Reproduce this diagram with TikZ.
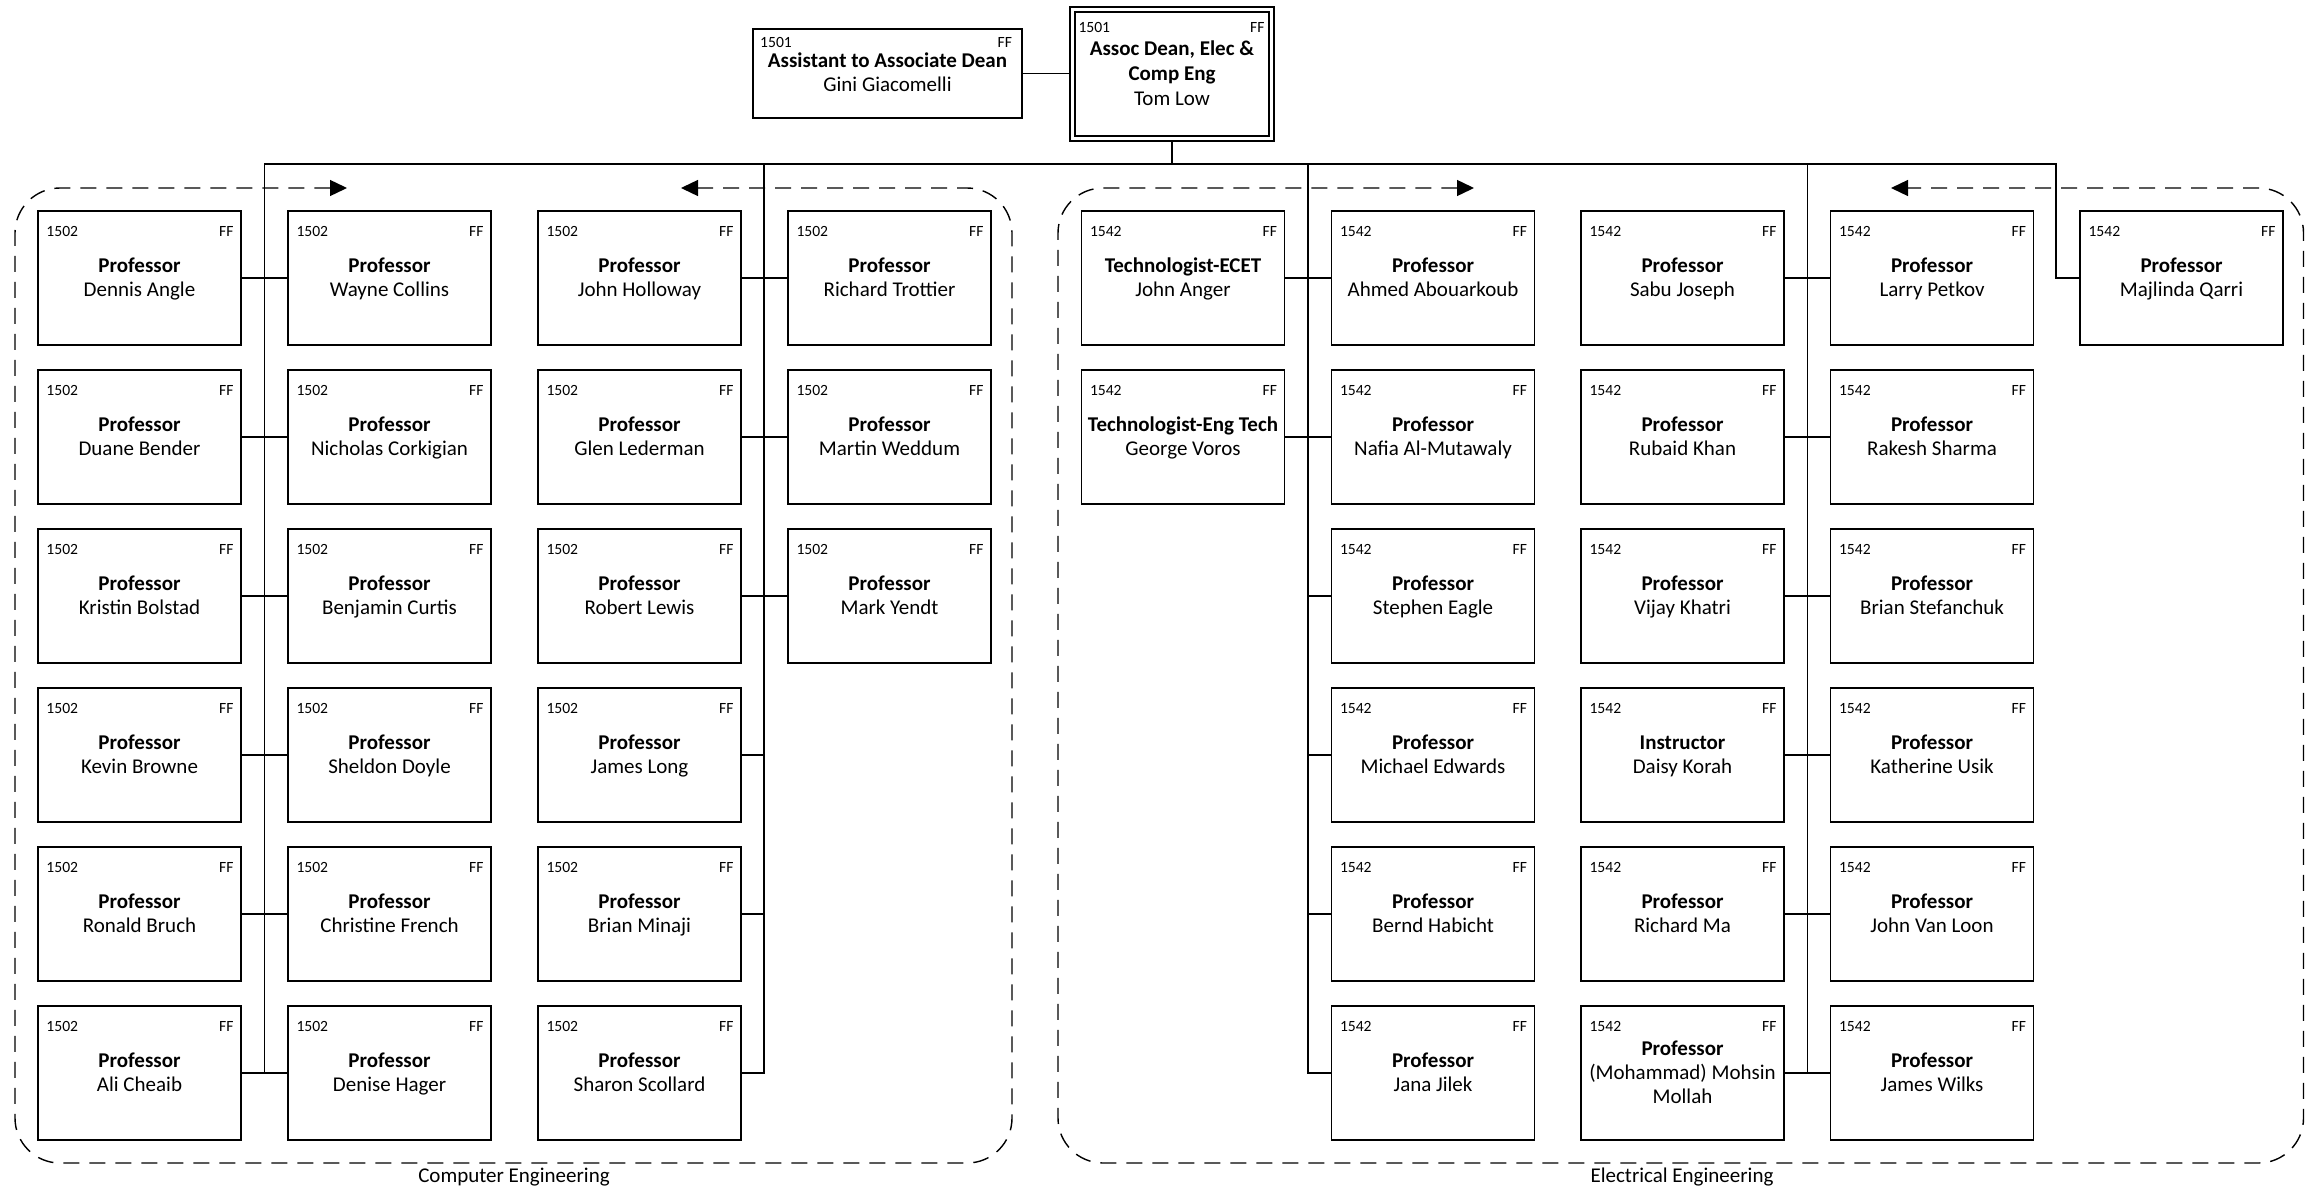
\documentclass[tikz,border=0pt]{standalone}
\usepackage{fontspec}
\setmainfont{Carlito}
\usetikzlibrary{arrows.meta,backgrounds}
\newcommand{\tstrut}{\rule{0pt}{9pt}}
\newcommand{\bstrut}{\rule[-2.7pt]{0pt}{2.7pt}}
\tikzset{
  pbox/.style={draw, line width=0.8pt, minimum width=101.6pt, minimum height=67.2pt,
    inner sep=0pt, align=center, font=\fontsize{10.5}{12}\selectfont},
  deanbox/.style={draw, double, line width=0.9pt, double distance=1.6pt,
    minimum width=99.5pt, minimum height=64.5pt, outer sep=1.7pt,
    inner sep=0pt, align=center, font=\fontsize{10.5}{12.4}\selectfont},
  asstbox/.style={draw, line width=0.8pt, minimum width=134.5pt, minimum height=44.5pt,
    inner sep=0pt, align=center, font=\fontsize{10.5}{12}\selectfont},
  codelbl/.style={inner sep=0pt, font=\fontsize{7.8}{9}\selectfont},
  conn/.style={line width=0.7pt},
  busline/.style={line width=1pt},
  grp/.style={line width=0.7pt, dash pattern=on 8pt off 5pt, rounded corners=22.5pt,
    {Triangle[length=8.5pt,width=8pt]}-{Triangle[length=8.5pt,width=8pt]}},
  grplbl/.style={inner sep=0pt, font=\fontsize{10.5}{12}\selectfont},
}
\newcommand{\orgbox}[6]{%
  \node[pbox] (#1) at (#2,#3) {\tstrut\textbf{#5}\\#6\bstrut};
  \node[codelbl, anchor=base west] (#1-c) at ([xshift=4.5pt,yshift=-13.1pt]#1.north west) {#4};
  \node[codelbl, anchor=base east] (#1-f) at ([xshift=-4pt,yshift=-13.1pt]#1.north east) {FF};
}
\begin{document}
\begin{tikzpicture}[x=0.5pt,y=-0.5pt]
\useasboundingbox (0,0) rectangle (2306,1188);
\fill[white] (0,0) rectangle (2306,1188);

% top boxes
\node[deanbox] (dean) at (1172,74) {\tstrut\textbf{Assoc Dean, Elec \&}\\\textbf{Comp Eng}\\Tom Low\bstrut};
\node[codelbl, anchor=base west] (dean-c) at ([xshift=4.5pt,yshift=-13.2pt]dean.north west) {1501};
\node[codelbl, anchor=base east] (dean-f) at ([xshift=-5pt,yshift=-13.2pt]dean.north east) {FF};

\node[asstbox] (asst) at (887.5,73.5) {\tstrut\textbf{Assistant to Associate Dean}\\Gini Giacomelli\bstrut};
\node[codelbl, anchor=base west] (asst-c) at ([xshift=3.8pt,yshift=-9.5pt]asst.north west) {1501};
\node[codelbl, anchor=base east] (asst-f) at ([xshift=-5.2pt,yshift=-9.5pt]asst.north east) {FF};

% Computer Engineering
\orgbox{a1}{139.5}{278}{1502}{Professor}{Dennis Angle}
\orgbox{a2}{139.5}{437}{1502}{Professor}{Duane Bender}
\orgbox{a3}{139.5}{596}{1502}{Professor}{Kristin Bolstad}
\orgbox{a4}{139.5}{755}{1502}{Professor}{Kevin Browne}
\orgbox{a5}{139.5}{914}{1502}{Professor}{Ronald Bruch}
\orgbox{a6}{139.5}{1073}{1502}{Professor}{Ali Cheaib}

\orgbox{b1}{389.5}{278}{1502}{Professor}{Wayne Collins}
\orgbox{b2}{389.5}{437}{1502}{Professor}{Nicholas Corkigian}
\orgbox{b3}{389.5}{596}{1502}{Professor}{Benjamin Curtis}
\orgbox{b4}{389.5}{755}{1502}{Professor}{Sheldon Doyle}
\orgbox{b5}{389.5}{914}{1502}{Professor}{Christine French}
\orgbox{b6}{389.5}{1073}{1502}{Professor}{Denise Hager}

\orgbox{c1}{639.5}{278}{1502}{Professor}{John Holloway}
\orgbox{c2}{639.5}{437}{1502}{Professor}{Glen Lederman}
\orgbox{c3}{639.5}{596}{1502}{Professor}{Robert Lewis}
\orgbox{c4}{639.5}{755}{1502}{Professor}{James Long}
\orgbox{c5}{639.5}{914}{1502}{Professor}{Brian Minaji}
\orgbox{c6}{639.5}{1073}{1502}{Professor}{Sharon Scollard}

\orgbox{d1}{889.5}{278}{1502}{Professor}{Richard Trottier}
\orgbox{d2}{889.5}{437}{1502}{Professor}{Martin Weddum}
\orgbox{d3}{889.5}{596}{1502}{Professor}{Mark Yendt}

% Electrical Engineering
\orgbox{e1}{1183}{278}{1542}{Technologist-ECET}{John Anger}
\orgbox{e2}{1183}{437}{1542}{Technologist-Eng Tech}{George Voros}

\orgbox{f1}{1433}{278}{1542}{Professor}{Ahmed Abouarkoub}
\orgbox{f2}{1433}{437}{1542}{Professor}{Nafia Al-Mutawaly}
\orgbox{f3}{1433}{596}{1542}{Professor}{Stephen Eagle}
\orgbox{f4}{1433}{755}{1542}{Professor}{Michael Edwards}
\orgbox{f5}{1433}{914}{1542}{Professor}{Bernd Habicht}
\orgbox{f6}{1433}{1073}{1542}{Professor}{Jana Jilek}

\orgbox{g1}{1682.5}{278}{1542}{Professor}{Sabu Joseph}
\orgbox{g2}{1682.5}{437}{1542}{Professor}{Rubaid Khan}
\orgbox{g3}{1682.5}{596}{1542}{Professor}{Vijay Khatri}
\orgbox{g4}{1682.5}{755}{1542}{Instructor}{Daisy Korah}
\orgbox{g5}{1682.5}{914}{1542}{Professor}{Richard Ma}
\orgbox{g6}{1682.5}{1073}{1542}{Professor}{(Mohammad) Mohsin\\Mollah}

\orgbox{h1}{1932}{278}{1542}{Professor}{Larry Petkov}
\orgbox{h2}{1932}{437}{1542}{Professor}{Rakesh Sharma}
\orgbox{h3}{1932}{596}{1542}{Professor}{Brian Stefanchuk}
\orgbox{h4}{1932}{755}{1542}{Professor}{Katherine Usik}
\orgbox{h5}{1932}{914}{1542}{Professor}{John Van Loon}
\orgbox{h6}{1932}{1073}{1542}{Professor}{James Wilks}

\orgbox{q}{2181.5}{278}{1542}{Professor}{Majlinda Qarri}

% trunk points on the bus
\coordinate (t1) at (264.5,164);
\coordinate (t2) at (764,164);
\coordinate (t3) at (1308,164);
\coordinate (t4) at (1807.5,164);
\coordinate (tq) at (2056,164);

% connectors
\draw[conn] (asst.east) -- (asst.east -| dean.west);
\foreach \i in {1,...,6} {
  \draw[conn] (dean.south) |- (t1) |- (a\i.east);
  \draw[conn] (dean.south) |- (t1) |- (b\i.west);
  \draw[conn] (dean.south) |- (t2) |- (c\i.east);
  \draw[conn] (dean.south) |- (t3) |- (f\i.west);
  \draw[conn] (dean.south) |- (t4) |- (g\i.east);
  \draw[conn] (dean.south) |- (t4) |- (h\i.west);
}
\foreach \i in {1,2,3} {
  \draw[conn] (dean.south) |- (t2) |- (d\i.west);
}
\foreach \i in {1,2} {
  \draw[conn] (dean.south) |- (t3) |- (e\i.east);
}
\draw[conn] (dean.south) |- (tq) |- (q.west);
\draw[busline] (dean.south) |- (t1);
\draw[busline] (dean.south) |- (t4);

% group containers
\draw[grp] (347,188) -| (15,1163) -| (1012,188) -- (681,188);
\draw[grp] (1474,188) -| (1058,1163) -| (2303.5,188) -- (1891,188);
\node[grplbl] (celbl) at (514,1177) {Computer Engineering};
\node[grplbl] (eelbl) at (1682,1177) {Electrical Engineering};
\end{tikzpicture}
\end{document}
